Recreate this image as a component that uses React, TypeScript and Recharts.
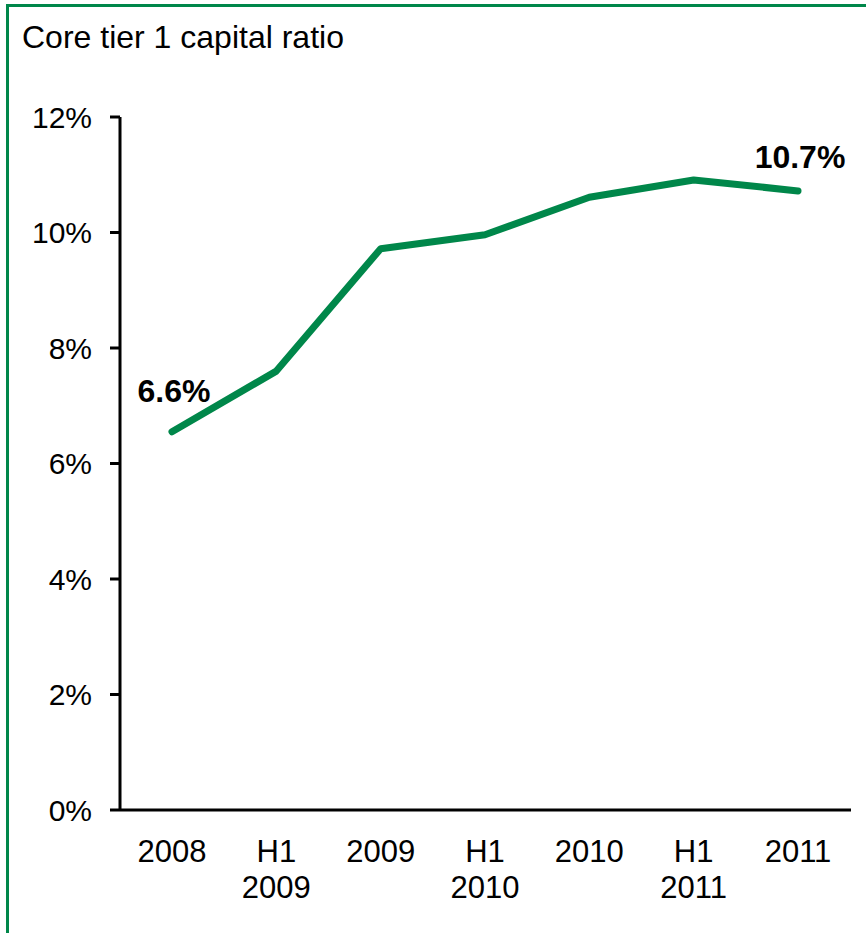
import React from "react";
import { LineChart, Line, XAxis, YAxis, LabelList } from "recharts";

const categories = ["2008", "H1\n2009", "2009", "H1\n2010", "2010", "H1\n2011", "2011"];
const ratioValues = [6.55, 7.6, 9.72, 9.96, 10.61, 10.91, 10.72];
const labelTexts = ["6.6%", "", "", "", "", "", "10.7%"];
const yTicks = [0, 2, 4, 6, 8, 10, 12];

const data = categories.map((c, i) => ({ cat: c, value: ratioValues[i], label: labelTexts[i] }));

const FONT = "'Liberation Sans', Arial, Helvetica, sans-serif";
const GREEN = "#00874A";

const XTick = (props: any) => {
  const { x, y, payload } = props;
  const lines = String(payload.value).split("\n");
  return (
    <text x={x} y={y} textAnchor="middle" fontSize={31} fill="#000" fontFamily={FONT}>
      {lines.map((l: string, i: number) => (
        <tspan key={i} x={x} dy={i === 0 ? 52 : 36}>
          {l}
        </tspan>
      ))}
    </text>
  );
};

const PointLabel = (props: any) => {
  const { x, y, value, index } = props;
  if (!value) return null;
  const dy = index === 0 ? -30 : -23;
  return (
    <text x={x + 2} y={y + dy} textAnchor="middle" fontSize={32} fontWeight="bold" fill="#000" fontFamily={FONT}>
      {value}
    </text>
  );
};

export default function App() {
  return (
    <div style={{ position: "absolute", left: 0, top: 0, width: 866, height: 933, background: "#fff", overflow: "hidden" }}>
      <div
        style={{
          position: "absolute",
          left: 6,
          top: 4,
          width: 880,
          height: 960,
          borderTop: `3px solid ${GREEN}`,
          borderLeft: `3px solid ${GREEN}`,
          boxSizing: "border-box",
        }}
      />
      <div
        style={{
          position: "absolute",
          left: 22,
          top: 21,
          fontFamily: FONT,
          fontSize: 32,
          lineHeight: "32px",
          color: "#000",
          whiteSpace: "nowrap",
        }}
      >
        Core tier 1 capital ratio
      </div>
      <div style={{ position: "absolute", left: 0, top: 0 }}>
        <LineChart width={866} height={933} data={data} margin={{ top: 117, right: 15, bottom: 23, left: 20 }}>
          <XAxis
            dataKey="cat"
            interval={0}
            padding={{ left: 52, right: 53 }}
            axisLine={{ stroke: "#000", strokeWidth: 3 }}
            tickLine={false}
            tickSize={0}
            tickMargin={0}
            height={100}
            tick={<XTick />}
          />
          <YAxis
            domain={[0, 12]}
            ticks={yTicks}
            interval={0}
            width={100}
            tickFormatter={(v: number) => `${v}%`}
            axisLine={{ stroke: "#000", strokeWidth: 3 }}
            tickLine={{ stroke: "#000", strokeWidth: 3 }}
            tickSize={10}
            tickMargin={18}
            tick={{ fontSize: 30, fill: "#000", fontFamily: FONT }}
          />
          <Line
            type="linear"
            dataKey="value"
            stroke={GREEN}
            strokeWidth={7}
            strokeLinecap="round"
            strokeLinejoin="round"
            dot={false}
            activeDot={false}
            isAnimationActive={false}
          >
            <LabelList dataKey="label" content={<PointLabel />} />
          </Line>
        </LineChart>
      </div>
    </div>
  );
}
